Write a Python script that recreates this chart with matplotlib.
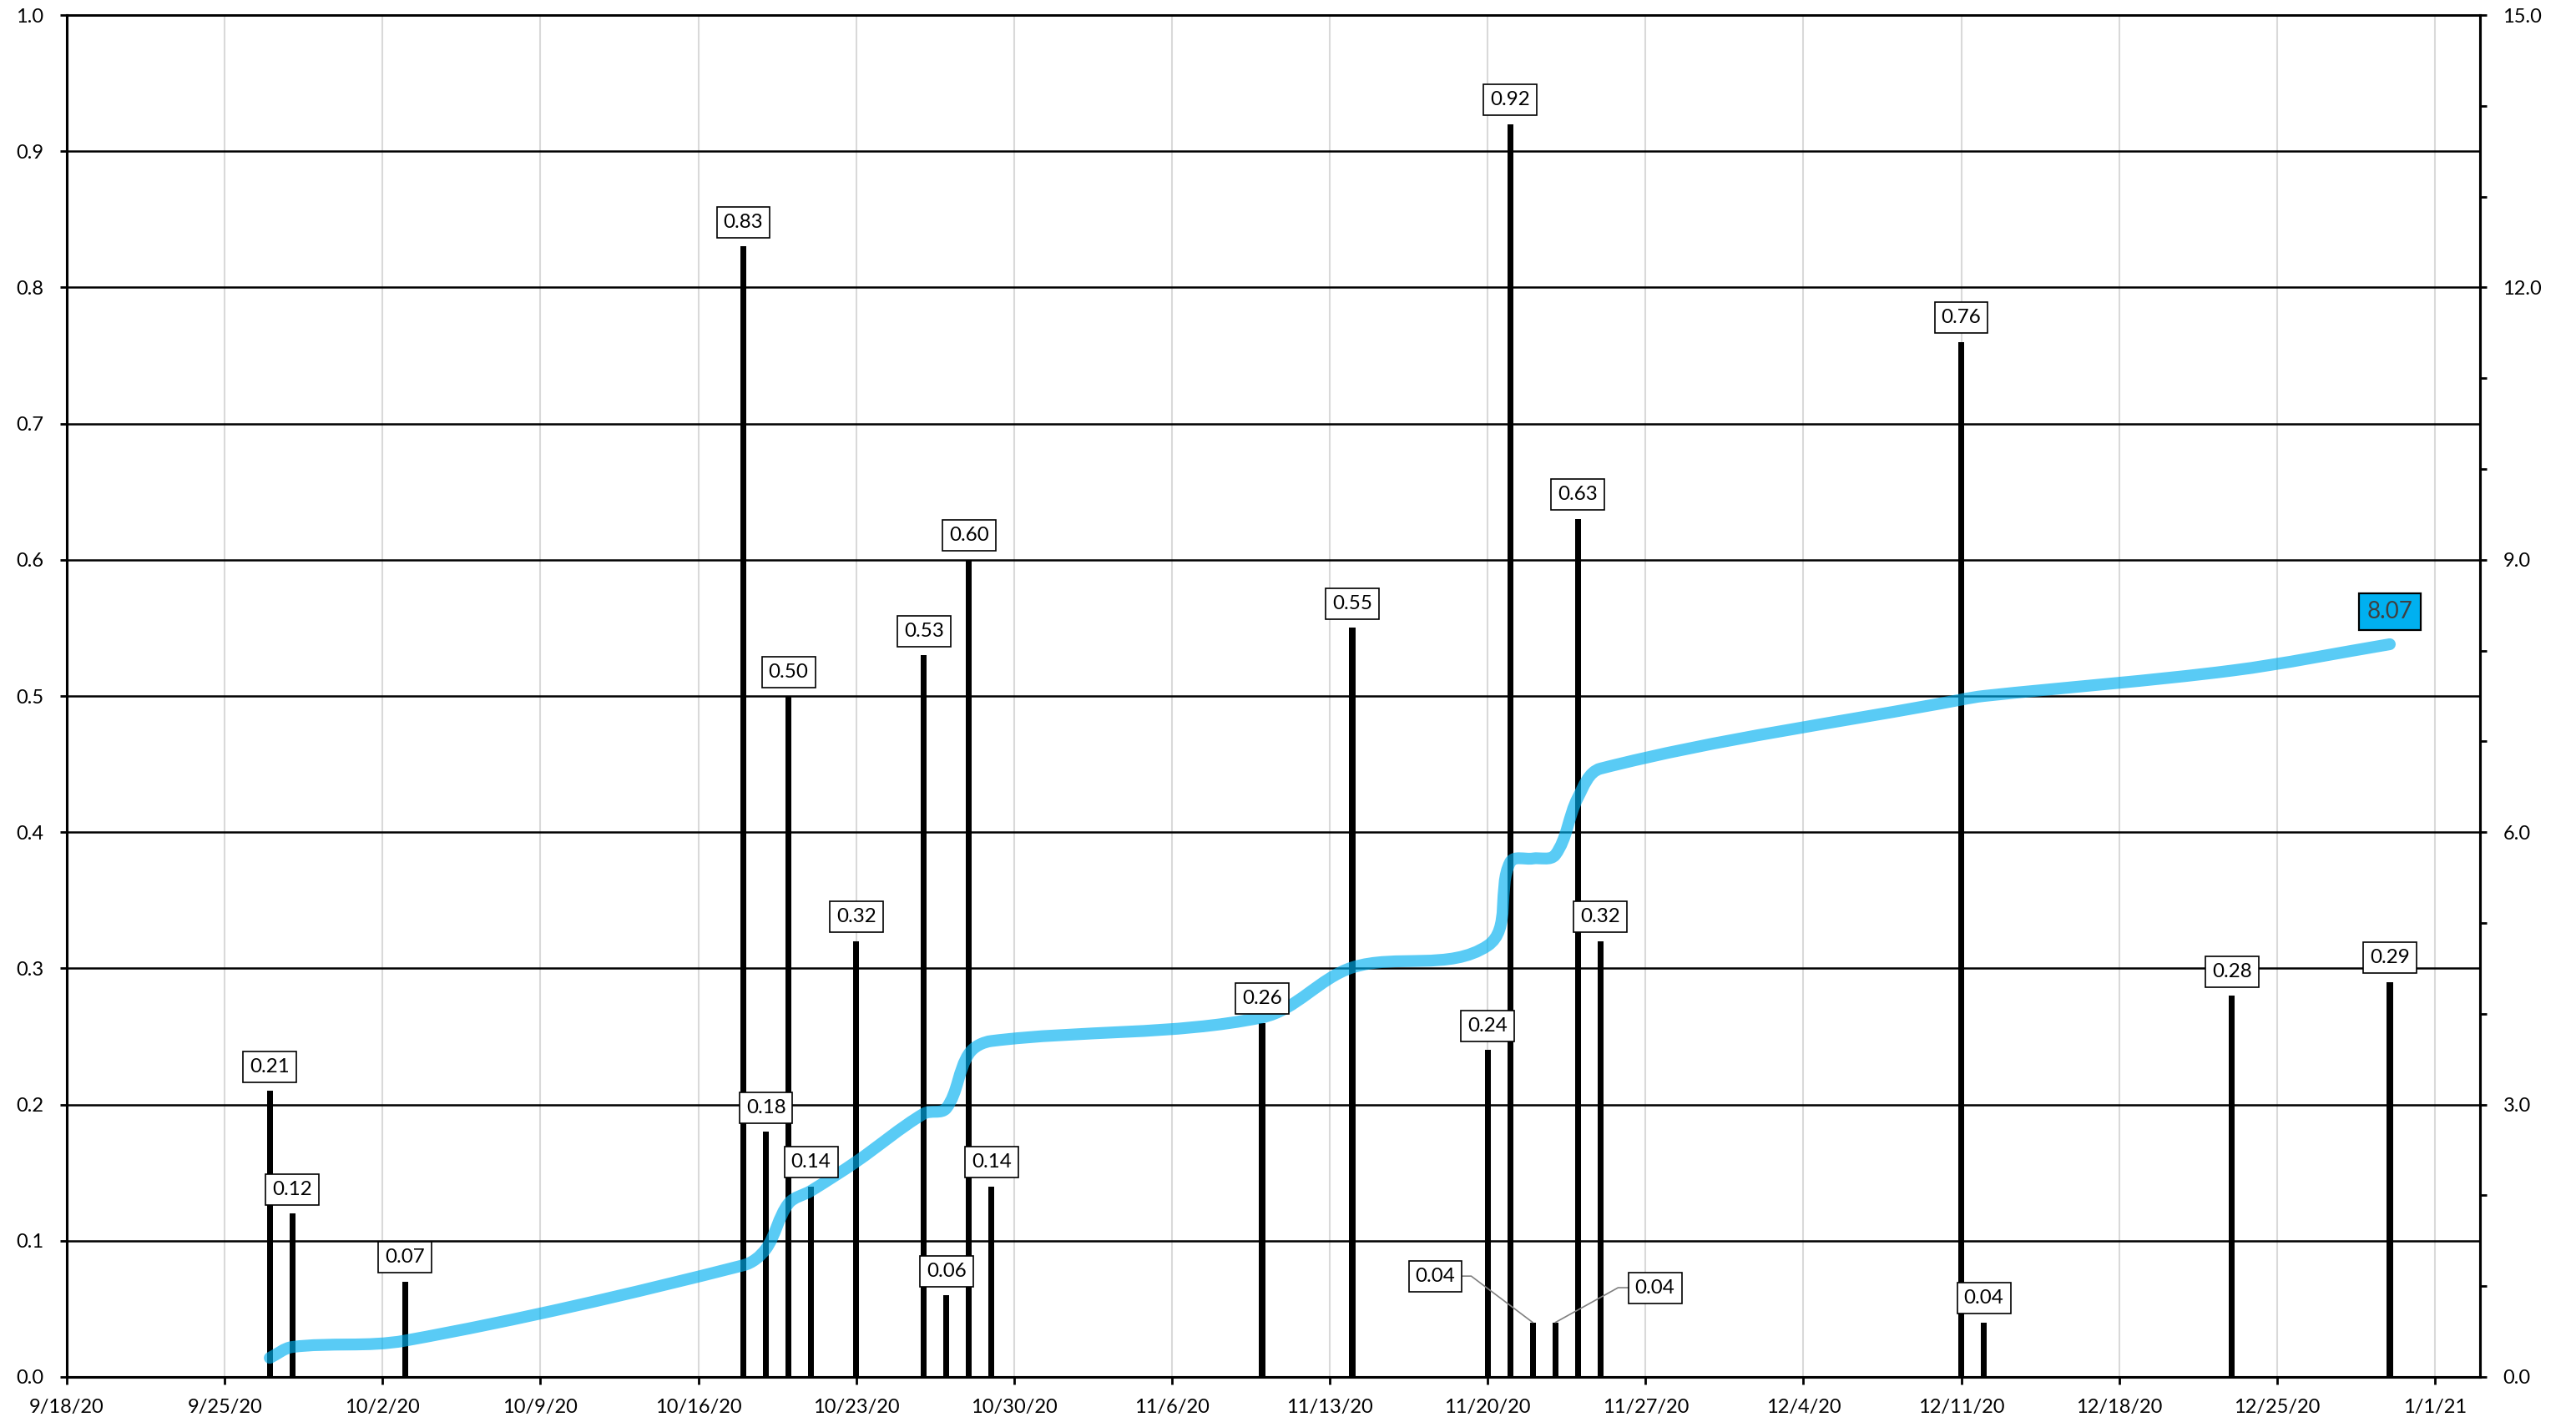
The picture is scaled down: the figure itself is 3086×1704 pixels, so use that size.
import datetime as dt

import matplotlib.dates as mdates
import matplotlib.pyplot as plt
import numpy as np
from matplotlib.patches import PathPatch
from matplotlib.path import Path

plt.rcParams['font.family'] = ['Lato', 'DejaVu Sans']

# daily rainfall (inches) on the days it rained
rain_days = ["2020-09-27", "2020-09-28", "2020-10-03", "2020-10-18", "2020-10-19",
             "2020-10-20", "2020-10-21", "2020-10-23", "2020-10-26", "2020-10-27",
             "2020-10-28", "2020-10-29", "2020-11-10", "2020-11-14", "2020-11-20",
             "2020-11-21", "2020-11-22", "2020-11-23", "2020-11-24", "2020-11-25",
             "2020-12-11", "2020-12-12", "2020-12-23", "2020-12-30"]
rain = [0.21, 0.12, 0.07, 0.83, 0.18, 0.50, 0.14, 0.32, 0.53, 0.06, 0.60, 0.14,
        0.26, 0.55, 0.24, 0.92, 0.04, 0.04, 0.63, 0.32, 0.76, 0.04, 0.28, 0.29]

# labels that sit off to the side with a leader line: date -> offset in points
side_labels = {"2020-11-22": (-42, 20), "2020-11-23": (43, 15)}

tick_start = dt.date(2020, 9, 18)
tick_dates = [tick_start + dt.timedelta(days=7 * k) for k in range(16)]
tick_labels = [f"{d.month}/{d.day}/{d:%y}" for d in tick_dates]

days = mdates.datestr2num(rain_days)
total = np.cumsum(rain)


def smooth_path(ax, x, y):
    # bezier through every point; tangents follow the neighbours and are
    # sized by the segment length (worked out on screen so nothing loops back)
    pts = ax.transData.transform(np.column_stack([x, y]))
    n = len(pts)
    tang = []
    for i in range(n):
        d = pts[min(i + 1, n - 1)] - pts[max(i - 1, 0)]
        tang.append(d / np.hypot(*d))
    verts = [pts[0]]
    codes = [Path.MOVETO]
    for i in range(n - 1):
        seg = np.hypot(*(pts[i + 1] - pts[i])) / 3
        verts += [pts[i] + tang[i] * seg, pts[i + 1] - tang[i + 1] * seg, pts[i + 1]]
        codes += [Path.CURVE4] * 3
    verts = ax.transData.inverted().transform(np.array(verts))
    return Path(verts, codes)


fig = plt.figure(figsize=(15.43, 8.52), dpi=200)
ax = fig.add_axes([80 / 3086, 1 - 1650 / 1704, (2971 - 80) / 3086, (1650 - 18) / 1704])
ax2 = ax.twinx()

ax.bar(days, rain, width=0.27, color="black", zorder=3)

ax.set_xlim(mdates.date2num(tick_start), mdates.date2num(dt.date(2021, 1, 3)))
ax.set_ylim(0, 1.0)
ax2.set_ylim(0, 15.0)

ax.set_xticks(mdates.date2num(tick_dates))
ax.set_xticklabels(tick_labels)
ax.set_yticks(np.arange(0, 1.01, 0.1))
ax.yaxis.set_major_formatter(plt.FormatStrFormatter("%.1f"))
ax2.set_yticks(np.arange(0, 15.1, 3))
ax2.set_yticks(np.arange(0, 15.1, 1), minor=True)
ax2.yaxis.set_major_formatter(plt.FormatStrFormatter("%.1f"))

ax.set_axisbelow(True)
ax.grid(axis="y", color="black", lw=0.9)
ax.grid(axis="x", color="#d9d9d9", lw=0.75)

ax.tick_params(axis="x", length=3.2, width=1, pad=6, labelsize=8.5)
ax.tick_params(axis="y", length=2.9, width=1, pad=7, labelsize=8.5)
ax2.tick_params(axis="y", which="both", length=2.9, width=1, pad=7, labelsize=8.5)
for a in (ax, ax2):
    for side in ("left", "right", "bottom"):
        a.spines[side].set_linewidth(1.1)
    a.spines["top"].set_linewidth(0.9)

# cumulative total on the right axis
line = PathPatch(smooth_path(ax2, days, total), fill=False, edgecolor="#00b0f0",
                 lw=5.1, alpha=0.65, capstyle="round", joinstyle="round")
ax2.add_patch(line)

box = dict(boxstyle="square,pad=0.33", fc="white", ec="black", lw=0.6)
for d, day, v in zip(rain_days, days, rain):
    if d in side_labels:
        ox, oy = side_labels[d]
        ang = 143 if ox < 0 else 29
        ax2.annotate(f"{v:.2f}", xy=(day, v), xycoords=ax.transData,
                     xytext=(ox, oy), textcoords="offset points",
                     ha="center", va="center", fontsize=8.7, bbox=box,
                     arrowprops=dict(arrowstyle="-", color="#808080", lw=0.6,
                                     shrinkA=0, shrinkB=0,
                                     connectionstyle=f"angle,angleA=0,angleB={ang},rad=0"))
    else:
        ax2.annotate(f"{v:.2f}", xy=(day, v), xycoords=ax.transData,
                     xytext=(0, 10.4), textcoords="offset points",
                     ha="center", va="center", fontsize=8.7, bbox=box)

ax2.annotate(f"{total[-1]:.2f}", xy=(days[-1], total[-1]), xytext=(0, 14),
             textcoords="offset points", ha="center", va="center",
             fontsize=10, color="#404040",
             bbox=dict(boxstyle="square,pad=0.33", fc="#00b0f0", ec="black", lw=0.8))

fig.savefig("out.png", dpi=200)
